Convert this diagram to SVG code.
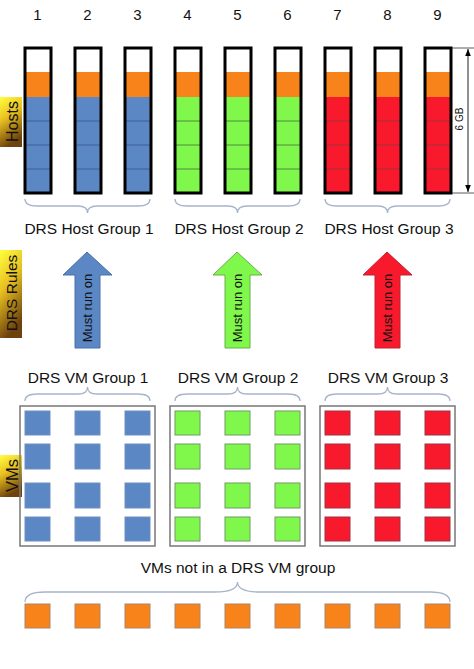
<svg xmlns="http://www.w3.org/2000/svg" width="474" height="669" viewBox="0 0 474 669">
<defs>
<linearGradient id="lbl" x1="0" y1="0" x2="0.3" y2="1">
<stop offset="0" stop-color="#ffff40"/>
<stop offset="0.45" stop-color="#e8c020"/>
<stop offset="1" stop-color="#6e420c"/>
</linearGradient>
<marker id="ah" viewBox="0 0 10 10" refX="10" refY="5" markerWidth="7" markerHeight="7" orient="auto-start-reverse">
<path d="M0,1 L10,5 L0,9 z" fill="#000"/>
</marker>
<style>
text{font-family:"Liberation Sans",Arial,sans-serif;fill:#111}
.num{font-size:15px;text-anchor:middle}
.grp{font-size:15.5px;text-anchor:middle}
.lbl{font-size:16px;text-anchor:middle}
.must{font-size:13px;text-anchor:middle}
.host{stroke:#000;stroke-width:3;fill:none}
.brace{fill:none;stroke:#a8b4cc;stroke-width:1.3}
.sep{stroke-width:1}
.blue{fill:#5b87c4}
.green{fill:#80f84b}
.red{fill:#f81a2c}
.orange{fill:#f8831a}
.sq-b{fill:#5b87c4;stroke:#6f8fbf;stroke-width:1}
.sq-g{fill:#80f84b;stroke:#6f9a66;stroke-width:1}
.sq-r{fill:#f81a2c;stroke:#9a3346;stroke-width:1}
.sq-o{fill:#f8831a;stroke:#a8866c;stroke-width:1}
.vmbox{fill:none;stroke:#777;stroke-width:1.5}
</style>
</defs>
<rect width="474" height="669" fill="#fff"/>

<!-- side labels -->
<g id="label-hosts">
<rect x="0" y="97" width="22" height="50" fill="url(#lbl)"/>
<text class="lbl" transform="translate(17.5,121.5) rotate(-90)">Hosts</text>
</g>
<g id="label-rules">
<rect x="0" y="250" width="22" height="88" fill="url(#lbl)"/>
<text class="lbl" transform="translate(17,293) rotate(-90)" style="font-size:15.5px">DRS Rules</text>
</g>
<g id="label-vms">
<rect x="0" y="455" width="22" height="42" fill="url(#lbl)"/>
<text class="lbl" transform="translate(17.5,475.5) rotate(-90)" style="font-size:16.5px">VMs</text>
</g>

<!-- host numbers -->
<g id="numbers">
<text class="num" x="37.5" y="20">1</text>
<text class="num" x="87.5" y="20">2</text>
<text class="num" x="137.5" y="20">3</text>
<text class="num" x="187.5" y="20">4</text>
<text class="num" x="237.5" y="20">5</text>
<text class="num" x="287.5" y="20">6</text>
<text class="num" x="337.5" y="20">7</text>
<text class="num" x="387.5" y="20">8</text>
<text class="num" x="437.5" y="20">9</text>
</g>

<!-- hosts -->
<g id="host1"><rect x="25" y="72" width="26" height="25" class="orange"/><rect x="25" y="97" width="26" height="96" class="blue"/><g stroke="#3f5f96" class="sep"><line x1="25" y1="121" x2="51" y2="121"/><line x1="25" y1="145" x2="51" y2="145"/><line x1="25" y1="169" x2="51" y2="169"/></g><rect x="25" y="48" width="26" height="145" class="host"/></g>
<g id="host2"><rect x="75" y="72" width="26" height="25" class="orange"/><rect x="75" y="97" width="26" height="96" class="blue"/><g stroke="#3f5f96" class="sep"><line x1="75" y1="121" x2="101" y2="121"/><line x1="75" y1="145" x2="101" y2="145"/><line x1="75" y1="169" x2="101" y2="169"/></g><rect x="75" y="48" width="26" height="145" class="host"/></g>
<g id="host3"><rect x="125" y="72" width="26" height="25" class="orange"/><rect x="125" y="97" width="26" height="96" class="blue"/><g stroke="#3f5f96" class="sep"><line x1="125" y1="121" x2="151" y2="121"/><line x1="125" y1="145" x2="151" y2="145"/><line x1="125" y1="169" x2="151" y2="169"/></g><rect x="125" y="48" width="26" height="145" class="host"/></g>
<g id="host4"><rect x="175" y="72" width="26" height="25" class="orange"/><rect x="175" y="97" width="26" height="96" class="green"/><g stroke="#4f8a3a" class="sep"><line x1="175" y1="121" x2="201" y2="121"/><line x1="175" y1="145" x2="201" y2="145"/><line x1="175" y1="169" x2="201" y2="169"/></g><rect x="175" y="48" width="26" height="145" class="host"/></g>
<g id="host5"><rect x="225" y="72" width="26" height="25" class="orange"/><rect x="225" y="97" width="26" height="96" class="green"/><g stroke="#4f8a3a" class="sep"><line x1="225" y1="121" x2="251" y2="121"/><line x1="225" y1="145" x2="251" y2="145"/><line x1="225" y1="169" x2="251" y2="169"/></g><rect x="225" y="48" width="26" height="145" class="host"/></g>
<g id="host6"><rect x="275" y="72" width="26" height="25" class="orange"/><rect x="275" y="97" width="26" height="96" class="green"/><g stroke="#4f8a3a" class="sep"><line x1="275" y1="121" x2="301" y2="121"/><line x1="275" y1="145" x2="301" y2="145"/><line x1="275" y1="169" x2="301" y2="169"/></g><rect x="275" y="48" width="26" height="145" class="host"/></g>
<g id="host7"><rect x="325" y="72" width="26" height="25" class="orange"/><rect x="325" y="97" width="26" height="96" class="red"/><g stroke="#a0303c" class="sep"><line x1="325" y1="121" x2="351" y2="121"/><line x1="325" y1="145" x2="351" y2="145"/><line x1="325" y1="169" x2="351" y2="169"/></g><rect x="325" y="48" width="26" height="145" class="host"/></g>
<g id="host8"><rect x="375" y="72" width="26" height="25" class="orange"/><rect x="375" y="97" width="26" height="96" class="red"/><g stroke="#a0303c" class="sep"><line x1="375" y1="121" x2="401" y2="121"/><line x1="375" y1="145" x2="401" y2="145"/><line x1="375" y1="169" x2="401" y2="169"/></g><rect x="375" y="48" width="26" height="145" class="host"/></g>
<g id="host9"><rect x="425" y="72" width="26" height="25" class="orange"/><rect x="425" y="97" width="26" height="96" class="red"/><g stroke="#a0303c" class="sep"><line x1="425" y1="121" x2="451" y2="121"/><line x1="425" y1="145" x2="451" y2="145"/><line x1="425" y1="169" x2="451" y2="169"/></g><rect x="425" y="48" width="26" height="145" class="host"/></g>

<!-- dimension -->
<g id="dimension">
<line x1="452" y1="48" x2="474" y2="48" stroke="#333" stroke-width="0.8"/>
<line x1="452" y1="193" x2="474" y2="193" stroke="#333" stroke-width="0.8"/>
<line x1="468" y1="49" x2="468" y2="192" stroke="#222" stroke-width="1" marker-start="url(#ah)" marker-end="url(#ah)"/>
<text transform="translate(463,119) rotate(-90)" style="font-size:10px;text-anchor:middle">6 GB</text>
</g>

<!-- host group braces and labels -->
<g id="host-group-1">
<path class="brace" d="M25,199 Q25,206 37,206 L78,206 Q87.5,206 87.5,213 Q87.5,206 97,206 L138,206 Q150,206 150,199"/>
<text class="grp" x="89" y="234">DRS Host Group 1</text>
</g>
<g id="host-group-2">
<path class="brace" d="M175,199 Q175,206 187,206 L228,206 Q237.5,206 237.5,213 Q237.5,206 247,206 L288,206 Q300,206 300,199"/>
<text class="grp" x="239" y="234">DRS Host Group 2</text>
</g>
<g id="host-group-3">
<path class="brace" d="M325,199 Q325,206 337,206 L378,206 Q387.5,206 387.5,213 Q387.5,206 397,206 L438,206 Q450,206 450,199"/>
<text class="grp" x="389" y="234">DRS Host Group 3</text>
</g>

<!-- rule arrows -->
<g id="connectors">
<g id="rule-1">
<path d="M87,252 L112,275 L100,275 L100,348 L75,348 L75,275 L63,275 Z" fill="#5b87c4" stroke="#4a70a8" stroke-width="1"/>
<text class="must" transform="translate(92,308) rotate(-90)">Must run on</text>
</g>
<g id="rule-2">
<path d="M237,252 L262,275 L250,275 L250,348 L225,348 L225,275 L213,275 Z" fill="#80f84b" stroke="#66b04a" stroke-width="1"/>
<text class="must" transform="translate(242,308) rotate(-90)">Must run on</text>
</g>
<g id="rule-3">
<path d="M387,252 L412,275 L400,275 L400,348 L375,348 L375,275 L363,275 Z" fill="#f81a2c" stroke="#c02030" stroke-width="1"/>
<text class="must" transform="translate(392,308) rotate(-90)">Must run on</text>
</g>
</g>

<!-- VM groups -->
<g id="vm-group-1">
<text class="grp" x="88" y="383">DRS VM Group 1</text>
<path class="brace" d="M25,401 Q25,394 37,394 L78,394 Q87.5,394 87.5,387 Q87.5,394 97,394 L138,394 Q150,394 150,401"/>
<rect class="vmbox" x="20" y="406" width="135" height="140"/>
<g class="sq-b">
<rect x="25" y="411" width="25" height="24"/><rect x="75" y="411" width="25" height="24"/><rect x="125" y="411" width="25" height="24"/>
<rect x="25" y="444" width="25" height="25"/><rect x="75" y="444" width="25" height="25"/><rect x="125" y="444" width="25" height="25"/>
<rect x="25" y="483" width="25" height="25"/><rect x="75" y="483" width="25" height="25"/><rect x="125" y="483" width="25" height="25"/>
<rect x="25" y="517" width="25" height="24"/><rect x="75" y="517" width="25" height="24"/><rect x="125" y="517" width="25" height="24"/>
</g>
</g>
<g id="vm-group-2">
<text class="grp" x="238" y="383">DRS VM Group 2</text>
<path class="brace" d="M175,401 Q175,394 187,394 L228,394 Q237.5,394 237.5,387 Q237.5,394 247,394 L288,394 Q300,394 300,401"/>
<rect class="vmbox" x="170" y="406" width="135" height="140"/>
<g class="sq-g">
<rect x="175" y="411" width="25" height="24"/><rect x="225" y="411" width="25" height="24"/><rect x="275" y="411" width="25" height="24"/>
<rect x="175" y="444" width="25" height="25"/><rect x="225" y="444" width="25" height="25"/><rect x="275" y="444" width="25" height="25"/>
<rect x="175" y="483" width="25" height="25"/><rect x="225" y="483" width="25" height="25"/><rect x="275" y="483" width="25" height="25"/>
<rect x="175" y="517" width="25" height="24"/><rect x="225" y="517" width="25" height="24"/><rect x="275" y="517" width="25" height="24"/>
</g>
</g>
<g id="vm-group-3">
<text class="grp" x="388" y="383">DRS VM Group 3</text>
<path class="brace" d="M325,401 Q325,394 337,394 L378,394 Q387.5,394 387.5,387 Q387.5,394 397,394 L438,394 Q450,394 450,401"/>
<rect class="vmbox" x="320" y="406" width="135" height="140"/>
<g class="sq-r">
<rect x="325" y="411" width="25" height="24"/><rect x="375" y="411" width="25" height="24"/><rect x="425" y="411" width="25" height="24"/>
<rect x="325" y="444" width="25" height="25"/><rect x="375" y="444" width="25" height="25"/><rect x="425" y="444" width="25" height="25"/>
<rect x="325" y="483" width="25" height="25"/><rect x="375" y="483" width="25" height="25"/><rect x="425" y="483" width="25" height="25"/>
<rect x="325" y="517" width="25" height="24"/><rect x="375" y="517" width="25" height="24"/><rect x="425" y="517" width="25" height="24"/>
</g>
</g>

<!-- ungrouped VMs -->
<g id="ungrouped-vms">
<text class="grp" x="238" y="573">VMs not in a DRS VM group</text>
<path class="brace" d="M25,602 Q25,592 45,592 L215,592 Q237.5,592 237.5,582 Q237.5,592 260,592 L430,592 Q450,592 450,602"/>
<g class="sq-o">
<rect x="25" y="604" width="25" height="24"/><rect x="75" y="604" width="25" height="24"/><rect x="125" y="604" width="25" height="24"/>
<rect x="175" y="604" width="25" height="24"/><rect x="225" y="604" width="25" height="24"/><rect x="275" y="604" width="25" height="24"/>
<rect x="325" y="604" width="25" height="24"/><rect x="375" y="604" width="25" height="24"/><rect x="425" y="604" width="25" height="24"/>
</g>
</g>
</svg>
